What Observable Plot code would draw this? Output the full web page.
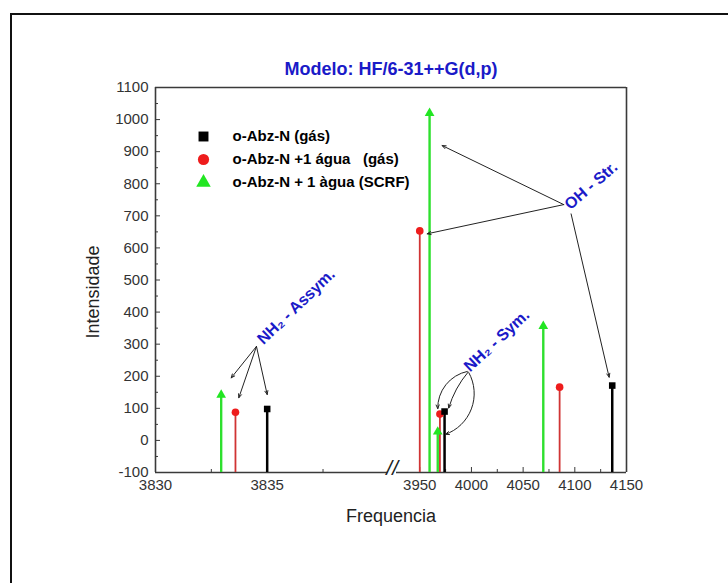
<!DOCTYPE html>
<html><head><meta charset="utf-8">
<script src="https://cdn.jsdelivr.net/npm/d3@7"></script>
<script src="https://cdn.jsdelivr.net/npm/@observablehq/plot@0.6"></script>
<style>
body{margin:0;background:#fff;}
#wrap{position:relative;width:728px;height:583px;overflow:hidden;background:#fff;}
#border{position:absolute;left:10px;top:13px;width:760px;height:620px;border:2px solid #111;box-sizing:border-box;}
#chart{position:absolute;left:0;top:0;}
</style></head><body>
<div id="wrap"><div id="border"></div><div id="chart"></div></div>
<script>
// ---- data ----
const seriesNames = ["o-Abz-N (gás)", "o-Abz-N +1 água   (gás)", "o-Abz-N + 1 àgua (SCRF)"];
const seriesColors = ["#000000", "#ee1c1c", "#22e622"];
const stemColors = ["#000000", "#d03434", "#2ee02e"];
const seriesSymbols = ["square", "circle", "triangle"];

const freqGas = [3835.0, 3974.0, 4136.2];
const intGas = [98, 90, 171];
const freqWater = [3833.58, 3950.0, 3969.5, 4085.3];
const intWater = [88, 653, 82, 166];
const freqSCRF = [3832.94, 3959.5, 3967.4, 4069.5];
const intSCRF = [142, 1020, 27, 356];

const xMajorTicks = [3830, 3835, 3950, 4000, 4050, 4100, 4150];
const xMinorTicks = [3832.5, 3837.5, 3975, 4025, 4075, 4125];
const yMajorTicks = [-100, 0, 100, 200, 300, 400, 500, 600, 700, 800, 900, 1000, 1100];
const yMinorTicks = [-50, 50, 150, 250, 350, 450, 550, 650, 750, 850, 950, 1050];

const titleText = "Modelo: HF/6-31++G(d,p)";
const xLabel = "Frequencia";
const yLabel = "Intensidade";

const annotLabels = ["OH - Str.", "NH₂ - Assym.", "NH₂ - Sym."];
const annotFreq = [4115.8, 3836.3, 4024.5];
const annotInt = [794, 417, 311];
const annotAngle = [-41, -44, -43];

const arrowFromF = [4089.3, 4089.3, 4096.4, 3834.52, 3834.52, 3834.52, 3996.0, 3996.8, 3997.5];
const arrowFromI = [735, 735, 706, 293, 293, 293, 215, 213, 211];
const arrowToF   = [3971.7, 3957.2, 4133.2, 3833.39, 3833.73, 3835.0, 3967.4, 3978.0, 3974.9];
const arrowToI   = [919, 644, 197, 195, 133, 143, 99, 101, 19];
const arrowBend  = [0, 0, 0, 0, 0, 0, -40, -12, 50];

// ---- build tables ----
const freqs = [freqGas, freqWater, freqSCRF];
const ints = [intGas, intWater, intSCRF];
const rows = freqs.map((fs, i) => fs.map((f, j) => ({series: i, freq: f, value: ints[i][j]})));
const annots = annotLabels.map((t, i) => ({text: t, freq: annotFreq[i], value: annotInt[i], angle: annotAngle[i]}));
const arrows = arrowFromF.map((f, i) => ({x1: f, y1: arrowFromI[i], x2: arrowToF[i], y2: arrowToI[i], bend: arrowBend[i]}));
const bottomSegments = [{a: 3830, b: 3840.4}, {a: 3927.5, b: 4150}];

const blue = "#1a1ac8";
const frameColor = "#3a3a3a";
const stemWidths = [2.5, 1.8, 2.4];
const symbolR = [3.7, 3.8, 3.6];
const legendR = [5.6, 5.6, 5.4];

const marks = [];
// frame (with broken bottom axis)
marks.push(Plot.ruleX([3830, 4150], {x: d => d, y1: -100, y2: 1100, stroke: frameColor, strokeWidth: 1.6}));
marks.push(Plot.ruleY([1100], {y: d => d, x1: 3830, x2: 4150, stroke: frameColor, strokeWidth: 1.6}));
marks.push(Plot.ruleY(bottomSegments, {y: -100, x1: "a", x2: "b", stroke: frameColor, strokeWidth: 1.6}));
marks.push(Plot.text(["//"], {x: 3884, y: -100, fontSize: 21, fontStyle: "italic", fill: "#222", lineAnchor: "middle", dy: -4}));

// axes
marks.push(Plot.axisY({ticks: yMajorTicks, tickSize: -5, tickPadding: 12, label: null, fontSize: 15, tickFormat: d => String(d), stroke: frameColor}));
marks.push(Plot.axisY({ticks: yMinorTicks, tickSize: -3, tickFormat: () => "", label: null, stroke: frameColor}));
marks.push(Plot.axisX({ticks: xMajorTicks, tickSize: -5, tickPadding: 12, label: null, fontSize: 15, tickFormat: d => String(d), stroke: frameColor}));
marks.push(Plot.axisX({ticks: xMinorTicks, tickSize: -3, tickFormat: () => "", label: null, stroke: frameColor}));

// stems and symbols
[1, 2, 0].forEach(i => {
  marks.push(Plot.ruleX(rows[i], {x: "freq", y1: -100, y2: "value", stroke: stemColors[i], strokeWidth: stemWidths[i]}));
});
[1, 2, 0].forEach(i => {
  marks.push(Plot.dot(rows[i], {x: "freq", y: "value", symbol: seriesSymbols[i], fill: seriesColors[i], stroke: "none", r: symbolR[i]}));
});

// annotations
const bends = [...new Set(arrowBend)];
bends.forEach(b => {
  marks.push(Plot.arrow(arrows.filter(a => a.bend === b), {x1: "x1", y1: "y1", x2: "x2", y2: "y2", bend: b, stroke: "#222", strokeWidth: 1, headLength: 6, headAngle: 45}));
});
marks.push(Plot.text(annots, {x: "freq", y: "value", text: "text", rotate: "angle", fill: blue, fontSize: 16, fontWeight: "bold"}));

// legend
seriesNames.forEach((name, i) => {
  marks.push(Plot.dot([name], {frameAnchor: "top-left", dx: 48, dy: 49 + 23 * i, symbol: seriesSymbols[i], fill: seriesColors[i], r: legendR[i]}));
  marks.push(Plot.text([name], {frameAnchor: "top-left", dx: 77, dy: 49 + 23 * i, text: d => d, textAnchor: "start", lineAnchor: "middle", fontSize: 15, fontWeight: "bold", fill: "#000"}));
});

// title and axis labels
marks.push(Plot.text([titleText], {frameAnchor: "top", dy: -18, text: d => d, lineAnchor: "middle", fill: blue, fontSize: 18, fontWeight: "bold"}));
marks.push(Plot.text([xLabel], {frameAnchor: "bottom", dy: 44, text: d => d, lineAnchor: "middle", fill: "#222", fontSize: 18}));
marks.push(Plot.text([yLabel], {frameAnchor: "left", dx: -62, dy: 12, rotate: -90, text: d => d, textAnchor: "middle", lineAnchor: "middle", fill: "#222", fontSize: 18}));

const chart = Plot.plot({
  width: 728,
  height: 583,
  marginTop: 87,
  marginBottom: 111,
  marginLeft: 155,
  marginRight: 102,
  style: {fontFamily: "Arial, 'Liberation Sans', sans-serif", color: "#333", background: "transparent", overflow: "visible"},
  x: {type: "linear", domain: [3830, 3840.4, 3927.5, 4150], range: [155, 387.3, 396, 626]},
  y: {domain: [-100, 1100]},
  marks
});
chart.querySelectorAll("text").forEach(t => t.style.whiteSpace = "pre");
document.getElementById("chart").appendChild(chart);
</script>
</body></html>
